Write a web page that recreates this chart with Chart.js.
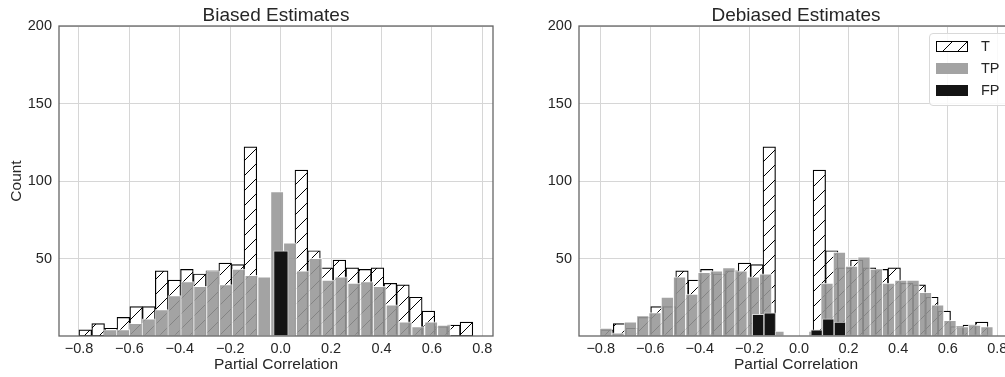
<!DOCTYPE html>
<html lang="en">
<head>
<meta charset="UTF-8">
<title>Biased and Debiased Estimates</title>
<script src="https://cdn.jsdelivr.net/npm/chart.js@4.4.1/dist/chart.umd.min.js"></script>
<style>
    body {
        margin: 0;
        background: #fff;
        font-family: 'Liberation Sans', Arial, sans-serif;
    }
    #wrap {
        position: relative;
        width: 1005px;
        height: 377px;
        overflow: hidden;
    }
    #wrap canvas {
        position: absolute;
        top: 0;
    }
    #left { left: 0; }
    #right { left: 520px; }

    #legend {
        position: absolute;
        left: 929px;
        top: 33px;
        width: 100px;
        height: 71px;
        border: 1px solid #d9d9d9;
        border-radius: 4px;
        background: rgba(255, 255, 255, 0.85);
        color: #262626;
        font-size: 14.5px;
    }
    #legend .item {
        position: absolute;
        left: 6px;
        height: 11px;
    }
    #legend .sw {
        position: absolute;
        left: 0;
        top: 0;
        width: 32px;
        height: 11px;
        box-sizing: border-box;
    }
    #legend .lbl {
        position: absolute;
        left: 45px;
        top: -3px;
        line-height: 16px;
        white-space: nowrap;
    }
</style>
</head>
<body>
<div id="wrap">
    <canvas id="left" width="500" height="377"></canvas>
    <canvas id="right" width="500" height="377"></canvas>
    <div id="legend">
        <div class="item" style="top:7px"><span class="sw" id="swT"></span><span class="lbl">T</span></div>
        <div class="item" style="top:29px"><span class="sw" style="background:#a3a3a3"></span><span class="lbl">TP</span></div>
        <div class="item" style="top:51px"><span class="sw" style="background:#141414"></span><span class="lbl">FP</span></div>
    </div>
</div>

<script>
    // axis ticks
    var xTicks = [-0.8, -0.6, -0.4, -0.2, 0.0, 0.2, 0.4, 0.6, 0.8];
    var yTicks = [50, 100, 150, 200];

    // T: true partial correlations (same in both panels), bin centers + counts
    var tBins = [-0.775, -0.724, -0.674, -0.624, -0.573, -0.523, -0.472, -0.422, -0.372, -0.321,
                 -0.271, -0.220, -0.170, -0.120,
                 0.082, 0.132, 0.183, 0.233, 0.284, 0.334, 0.384, 0.435, 0.485, 0.536,
                 0.586, 0.636, 0.687, 0.737];
    var tCounts = [4, 8, 5, 12, 19, 19, 42, 36, 43, 40, 42, 47, 46, 122,
                   107, 55, 44, 49, 44, 43, 44, 34, 33, 25, 16, 6, 7, 9];
    var tBinWidth = 0.0504;

    // biased estimates
    var biasedTpBins = [-0.676, -0.625, -0.574, -0.523, -0.472, -0.421, -0.370, -0.319, -0.268,
                        -0.217, -0.166, -0.116, -0.065, -0.014, 0.037, 0.088, 0.139, 0.190,
                        0.241, 0.292, 0.343, 0.393, 0.444, 0.495, 0.546, 0.597, 0.648];
    var biasedTpCounts = [4, 4, 8, 11, 17, 26, 35, 32, 42, 33, 43, 39, 38, 93, 60, 42, 50, 36,
                          38, 34, 35, 32, 20, 9, 6, 9, 7];
    var biasedTpWidth = 0.0509;
    var biasedFpBins = [0.001];
    var biasedFpCounts = [55];
    var biasedFpWidth = 0.058;

    // debiased estimates
    var debiasedTpBins = [-0.779, -0.730, -0.680, -0.630, -0.581, -0.531, -0.482, -0.432, -0.383,
                          -0.333, -0.283, -0.234, -0.184, -0.135, -0.085,
                          0.064, 0.113, 0.163, 0.212, 0.262, 0.312, 0.361, 0.411, 0.460,
                          0.510, 0.559, 0.609, 0.659, 0.708, 0.758];
    var debiasedTpCounts = [5, 2, 9, 13, 15, 25, 38, 27, 41, 42, 44, 42, 38, 40, 3,
                            3, 34, 54, 45, 51, 43, 34, 36, 36, 28, 20, 10, 6, 7, 6];
    var debiasedTpWidth = 0.0496;
    var debiasedFpBins = [-0.165, -0.118, 0.071, 0.118, 0.165];
    var debiasedFpCounts = [14, 15, 4, 11, 9];
    var debiasedFpWidth = 0.047;

    var textColor = '#262626';
    var gridColor = '#d6d6d6';
    Chart.defaults.font.family = "'Liberation Sans', Arial, sans-serif";
    Chart.defaults.color = textColor;

    // white fill with "/" hatching, like matplotlib hatch='/'
    function makeHatch() {
        var s = 15;
        var c = document.createElement('canvas');
        c.width = s;
        c.height = s;
        var g = c.getContext('2d');
        g.fillStyle = '#fff';
        g.fillRect(0, 0, s, s);
        g.strokeStyle = '#000';
        g.lineWidth = 1;
        g.beginPath();
        g.moveTo(0, s); g.lineTo(s, 0);
        g.moveTo(-1, 1); g.lineTo(1, -1);
        g.moveTo(s - 1, s + 1); g.lineTo(s + 1, s - 1);
        g.stroke();
        return c;
    }
    var hatchCanvas = makeHatch();
    var hatch = document.createElement('canvas').getContext('2d').createPattern(hatchCanvas, 'repeat');
    document.getElementById('swT').style.cssText += ';background:url(' + hatchCanvas.toDataURL() +
        ');border:1px solid #000;';

    function points(bins, counts) {
        return bins.map(function (x, i) { return {x: x, y: counts[i]}; });
    }

    function fmtX(v) {
        return Number(v).toFixed(1).replace('-', '\u2212');
    }

    var framePlugin = {
        id: 'frame',
        afterDraw: function (chart) {
            var a = chart.chartArea, ctx = chart.ctx;
            ctx.save();
            ctx.strokeStyle = '#666';
            ctx.lineWidth = 1.3;
            ctx.strokeRect(a.left, a.top, a.right - a.left, a.bottom - a.top);
            ctx.restore();
        }
    };

    function makeChart(id, title, xMin, xMax, showYTitle, tp, fp) {
        var datasets = [
            {
                label: 'T',
                data: points(tBins, tCounts),
                binWidth: tBinWidth,
                backgroundColor: hatch,
                borderColor: '#000',
                borderWidth: 1.2,
                borderSkipped: false,
                grouped: false,
                order: 3
            },
            {
                label: 'TP',
                data: points(tp.bins, tp.counts),
                binWidth: tp.width,
                backgroundColor: 'rgba(150, 150, 150, 0.88)',
                borderColor: 'rgba(255, 255, 255, 0.75)',
                borderWidth: 1,
                borderSkipped: false,
                inflateAmount: 0.5,
                grouped: false,
                order: 2
            },
            {
                label: 'FP',
                data: points(fp.bins, fp.counts),
                binWidth: fp.width,
                backgroundColor: '#141414',
                borderColor: 'rgba(220, 220, 220, 0.9)',
                borderWidth: 1,
                borderSkipped: false,
                grouped: false,
                order: 1
            }
        ];

        var chart = new Chart(document.getElementById(id), {
            type: 'bar',
            data: {datasets: datasets},
            options: {
                responsive: false,
                animation: false,
                layout: {padding: {left: 0, right: 7, top: 0, bottom: 0}},
                plugins: {
                    legend: {display: false},
                    tooltip: {enabled: false},
                    title: {
                        display: true,
                        fullSize: false,
                        text: title,
                        color: textColor,
                        font: {size: 19, weight: 'normal', lineHeight: 1.0},
                        padding: {top: 6, bottom: 1}
                    }
                },
                scales: {
                    x: {
                        type: 'linear',
                        min: xMin,
                        max: xMax,
                        offset: false,
                        afterBuildTicks: function (s) {
                            s.ticks = xTicks.map(function (v) { return {value: v}; });
                        },
                        afterFit: function (s) { s.height = 41; },
                        ticks: {
                            callback: fmtX,
                            autoSkip: false,
                            maxRotation: 0,
                            padding: 4,
                            color: textColor,
                            font: {size: 14.5}
                        },
                        grid: {color: gridColor, drawTicks: false, offset: false},
                        border: {display: false},
                        title: {
                            display: true,
                            text: 'Partial Correlation',
                            color: textColor,
                            font: {size: 15.5},
                            padding: {top: 0, bottom: 2.6}
                        }
                    },
                    y: {
                        min: 0,
                        max: 200,
                        afterBuildTicks: function (s) {
                            s.ticks = yTicks.map(function (v) { return {value: v}; });
                        },
                        afterFit: function (s) { s.width = 59; },
                        ticks: {padding: 7, color: textColor, font: {size: 14.5}},
                        grid: {color: gridColor, drawTicks: false},
                        border: {display: false},
                        title: {
                            display: showYTitle,
                            text: 'Count',
                            color: textColor,
                            font: {size: 15.5},
                            padding: {top: 7, bottom: 0}
                        }
                    }
                }
            },
            plugins: [framePlugin]
        });

        // bar width = bin width, measured through the x scale
        var xs = chart.scales.x;
        chart.data.datasets.forEach(function (ds) {
            ds.barThickness = Math.abs(xs.getPixelForValue(ds.binWidth) - xs.getPixelForValue(0));
        });
        chart.update('none');
        return chart;
    }

    makeChart('left', 'Biased Estimates', -0.8793, 0.8423, true,
        {bins: biasedTpBins, counts: biasedTpCounts, width: biasedTpWidth},
        {bins: biasedFpBins, counts: biasedFpCounts, width: biasedFpWidth});

    makeChart('right', 'Debiased Estimates', -0.8875, 0.8632, false,
        {bins: debiasedTpBins, counts: debiasedTpCounts, width: debiasedTpWidth},
        {bins: debiasedFpBins, counts: debiasedFpCounts, width: debiasedFpWidth});
</script>
</body>
</html>
